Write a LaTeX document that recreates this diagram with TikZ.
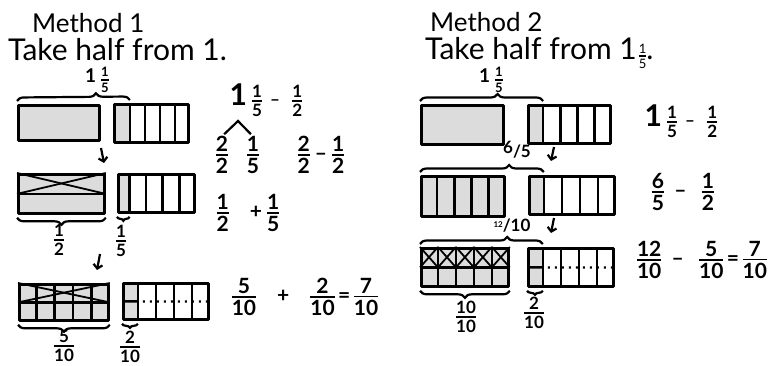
\documentclass[tikz,border=0pt]{standalone}
\usepackage{fontspec}
\setmainfont{Lato}
\usetikzlibrary{arrows.meta,calc,decorations.pathreplacing}
\definecolor{Shade}{HTML}{DCDCDC}
\newcommand{\frc}[2]{\ensuremath{\vcenter{\halign{\hfil##\hfil\cr #1\cr
  \noalign{\kern2pt\hrule height1.8pt\kern2.5pt}#2\cr}}}}
\newcommand{\sfrc}[2]{{\fontsize{13}{13}\selectfont\frc{#1}{#2}}}
\newcommand{\mixone}[1]{{\fontsize{#1}{#1}\selectfont 1}\kern5pt}
\newcommand{\slant}[2]{\raisebox{4pt}{#1}/#2}
\tikzset{
  title/.style={font=\fontsize{26}{30}\selectfont, anchor=west, inner sep=0pt},
  task/.style={font=\fontsize{30}{33}\selectfont, anchor=west, inner sep=0pt},
  sum/.style={font=\fontsize{21}{23}\selectfont\bfseries, inner sep=0pt},
  small/.style={font=\fontsize{17}{19}\selectfont\bfseries, inner sep=0pt},
  tag/.style={font=\fontsize{17}{19}\selectfont\bfseries, inner sep=0pt},
  mixtag/.style={font=\fontsize{13}{15}\selectfont\bfseries, inner sep=0pt},
  bar/.style={draw, line width=2.8pt, line join=round, fill=Shade,
    inner sep=0pt, anchor=north west},
  pieces/.style={bar, fill=white, path picture={
    \fill[Shade] (path picture bounding box.north west) rectangle
      ($(path picture bounding box.south west)!#1!(path picture bounding box.south east)$);}},
  part/.style={line width=2.6pt},
  cross/.style={line width=1.8pt},
  dotline/.style={line width=2.2pt, dash pattern=on 2pt off 5pt},
  curly/.style={decorate, line width=2.2pt, decoration={brace, amplitude=7pt}},
  down/.style={-{Straight Barb[length=4pt,width=9pt]}, line width=2.2pt},
  split/.style={line width=2.2pt, shorten <=3pt, shorten >=3pt}
}
\begin{document}
\begin{tikzpicture}[x=1pt,y=-1pt]
\useasboundingbox (0,0) rectangle (773,366);

% Method 1
\node[title] (m1) at (32,23) {Method 1};
\node[task] (task1) at (8,50) {Take half from 1.};

\node[bar, minimum width=81pt, minimum height=35pt] (whole1) at (17,104) {};
\node[pieces=0.22, minimum width=74pt, minimum height=38pt] (fifth1) at (113,103) {};
\node[bar, minimum width=86pt, minimum height=39pt] (whole2) at (17,173) {};
\node[pieces=0.16, minimum width=76pt, minimum height=38pt] (fifth2) at (117,173) {};
\node[bar, minimum width=89pt, minimum height=36pt] (whole3) at (18,283) {};
\node[pieces=0.18, minimum width=85pt, minimum height=36pt] (fifth3) at (122,282) {};

% Method 2
\node[title] (m2) at (430,22) {Method 2};
\node[task] (task2) at (425,53) {Take half from 1\kern2pt\sfrc{1}{5}.};

\node[bar, minimum width=82pt, minimum height=39pt] (wholeA) at (420,104) {};
\node[pieces=0.19, minimum width=82pt, minimum height=38pt] (fifthA) at (527,104) {};
\node[bar, minimum width=83pt, minimum height=40pt] (wholeB) at (420,175) {};
\node[pieces=0.18, minimum width=85pt, minimum height=38pt] (fifthB) at (528,175) {};
\node[bar, minimum width=87pt, minimum height=38pt] (wholeC) at (420,247) {};
\node[pieces=0.18, minimum width=85pt, minimum height=38pt] (fifthC) at (527,247) {};

% fifths
\foreach \b/\f in {fifth1/0.22,fifth2/0.16,fifth3/0.18,fifthA/0.19,fifthB/0.18,fifthC/0.18} {
  \coordinate (\b-t) at ($(\b.north west)!\f!(\b.north east)$);
  \coordinate (\b-b) at ($(\b.south west)!\f!(\b.south east)$);
  \coordinate (\b-m) at ($(\b.west)!\f!(\b.east)$);
  \draw[part] (\b-t) -- (\b-b);
  \foreach \i in {1,2,3} {
    \draw[part] ($(\b-t)!\i/4!(\b.north east)$) -- ($(\b-b)!\i/4!(\b.south east)$);
  }
}
\foreach \b in {whole3,wholeB,wholeC} {
  \foreach \i in {1,...,4} {
    \draw[part] ($(\b.north west)!\i/5!(\b.north east)$) -- ($(\b.south west)!\i/5!(\b.south east)$);
  }
}

% tenths
\draw[part] (whole2.west) -- (whole2.east);
\draw[cross] (whole2.north west) -- (whole2.east);
\draw[cross] (whole2.north east) -- (whole2.west);
\draw[part] (whole3.west) -- (whole3.east);
\draw[cross] (whole3.north west) -- (whole3.east);
\draw[cross] (whole3.north east) -- (whole3.west);
\draw[part] (wholeC.west) -- (wholeC.east);
\foreach \i in {0,...,4} {
  \draw[cross] ($(wholeC.north west)!\i/5!(wholeC.north east)$) -- ($(wholeC.west)!{(\i+1)/5}!(wholeC.east)$);
  \draw[cross] ($(wholeC.north west)!{(\i+1)/5}!(wholeC.north east)$) -- ($(wholeC.west)!\i/5!(wholeC.east)$);
}
\foreach \b in {fifth3,fifthC} {
  \draw[part] (\b.west) -- (\b-m);
  \draw[dotline] ([xshift=5pt]\b-m) -- (\b.east);
}

% braces
\draw[curly, decoration={aspect=0.7}] ([yshift=3pt]whole1.north west) -- ([yshift=3pt]fifth1-t);
\node[mixtag] (l11) at (97,80) {\mixone{19}\frc{1}{5}};
\draw[curly, decoration={mirror}] ([yshift=-3pt]whole2.south west) -- ([yshift=-3pt]whole2.south east);
\node[tag] (l21) at (59,240) {\frc{1}{2}};
\draw[curly, decoration={mirror, amplitude=4pt}] ([yshift=-3pt]fifth2.south west) -- ([yshift=-3pt]fifth2-b);
\node[tag] (l22) at (121,241) {\frc{1}{5}};
\draw[curly, decoration={mirror}] ([yshift=-3pt]whole3.south west) -- ([yshift=-3pt]whole3.south east);
\node[tag] (l31) at (64,346) {\frc{5}{10}};
\draw[curly, decoration={mirror, amplitude=4pt}] ([yshift=-3pt]fifth3.south west) -- ([yshift=-3pt]fifth3-b);
\node[tag] (l32) at (130,347) {\frc{2}{10}};

\draw[curly, decoration={aspect=0.63}] ([yshift=3pt]wholeA.north west) -- ([yshift=3pt]fifthA-t);
\node[mixtag] (lA) at (491,80) {\mixone{19}\frc{1}{5}};
\draw[curly, decoration={aspect=0.72}] ([yshift=3pt]wholeB.north west) -- ([yshift=3pt]fifthB-t);
\node[small] (lB) at (517,150) {\slant{6}{5}};
\draw[curly, decoration={aspect=0.71}] ([yshift=3pt]wholeC.north west) -- ([yshift=3pt]fifthC-t);
\node[small] (lC) at (512,226) {\slant{\footnotesize 12}{10}};
\draw[curly, decoration={mirror}] ([yshift=-3pt]wholeC.south west) -- ([yshift=-3pt]wholeC.south east);
\node[tag] (lC1) at (466,317) {\frc{10}{10}};
\draw[curly, decoration={mirror, amplitude=4pt}] ([yshift=-3pt]fifthC.south west) -- ([yshift=-3pt]fifthC-b);
\node[tag] (lC2) at (534,313) {\frc{2}{10}};

% arrows
\coordinate (a1) at (101,148); \coordinate (a2) at (104,163);
\coordinate (a3) at (100,254); \coordinate (a4) at (97,270);
\coordinate (a5) at (554,147); \coordinate (a6) at (551,161);
\coordinate (a7) at (554,218); \coordinate (a8) at (551,233);
\draw[down] (a1) -- (a2);
\draw[down] (a3) -- (a4);
\draw[down] (a5) -- (a6);
\draw[down] (a7) -- (a8);

% sums
\node[small] (e11) at (266,100) {\mixone{30}\frc{1}{5}\ \ – \ \ \frc{1}{2}};
\node[sum] (e12) at (222,155) {\frc{2}{2}};
\node[sum] (e13) at (253,155) {\frc{1}{5}};
\node[sum] (e14) at (321,155) {\frc{2}{2}\ – \frc{1}{2}};
\coordinate (apex) at (238,121);
\draw[split] (e12.north) -- (apex) -- (e13.north);
\node[sum] (e21) at (248,213) {\frc{1}{2}\quad+\ \frc{1}{5}};
\node[sum] (e31) at (305,297) {\frc{5}{10}\quad+\quad\frc{2}{10}\,=\,\frc{7}{10}};

\node[small] (eA) at (681,121) {\mixone{30}\frc{1}{5}\ \ – \ \ \frc{1}{2}};
\node[sum] (eB) at (683,192) {\frc{6}{5}\ \ – \ \ \frc{1}{2}};
\node[sum] (eC) at (702,260) {\frc{12}{10}\ \ – \ \ \frc{5}{10}\,=\,\frc{7}{10}};
\end{tikzpicture}
\end{document}
